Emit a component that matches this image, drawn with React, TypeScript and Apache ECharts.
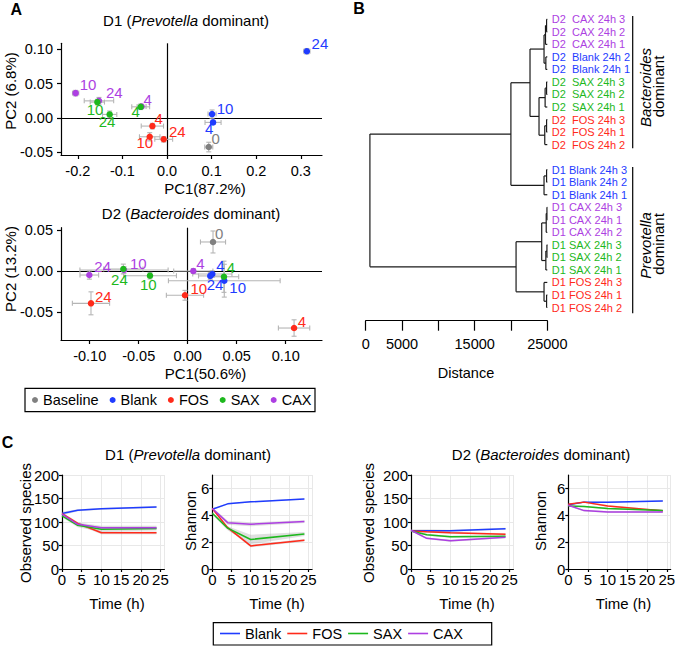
import React, { useEffect, useRef } from 'react';
import * as echarts from 'echarts';

const FONT = '"Liberation Sans", Arial, Helvetica, sans-serif';

// ---------- groups ----------
const legendGroups = ['Baseline', 'Blank', 'FOS', 'SAX', 'CAX'];
const drawOrder = ['Baseline', 'CAX', 'Blank', 'FOS', 'SAX'];
const treatments = ['Blank', 'FOS', 'SAX', 'CAX'];
const palette: Record<string, string> = {
  Baseline: '#808080',
  Blank: '#1f3cff',
  FOS: '#ff2a1a',
  SAX: '#1db81d',
  CAX: '#ad3fe2',
};

// ---------- Panel A: PCA, rows = [PC1, PC2, PC1 error, PC2 error, time (h)] ----------
const d1Baseline = [[0.0936, -0.0427, 0.009, 0.007, '0']];
const d1Blank = [[0.1032, -0.0067, 0.018, 0.003, '4'], [0.101, 0.0054, 0.009, 0.006, '10'], [0.3135, 0.0971, 0.007, 0.004, '24']];
const d1FOS = [[-0.0328, -0.0121, 0.025, 0.004, '4'], [-0.0388, -0.0277, 0.023, 0.006, '10'], [-0.0074, -0.0314, 0.02, 0.004, '24']];
const d1SAX = [[-0.059, 0.016, 0.02, 0.004, '4'], [-0.1562, 0.0229, 0.016, 0.004, '10'], [-0.1286, 0.0049, 0.016, 0.005, '24']];
const d1CAX = [[-0.057, 0.0165, 0.01, 0.003, '4'], [-0.2049, 0.036, 0.007, 0.004, '10'], [-0.1526, 0.0247, 0.033, 0.005, '24']];

const d2Baseline = [[0.0258, 0.0354, 0.0128, 0.0134, '0']];
const d2Blank = [[0.0251, -0.0037, 0.02, 0.004, '4'], [0.0373, -0.0118, 0.057, 0.02, '10'], [0.023, -0.006, 0.012, 0.004, '24']];
const d2FOS = [[0.1085, -0.0695, 0.016, 0.01, '4'], [-0.0028, -0.0296, 0.019, 0.006, '10'], [-0.0987, -0.0394, 0.019, 0.014, '24']];
const d2SAX = [[0.037, -0.007, 0.015, 0.019, '4'], [-0.0385, -0.0057, 0.027, 0.004, '10'], [-0.0657, 0.0024, 0.02, 0.006, '24']];
const d2CAX = [[0.0057, 0.0, 0.02, 0.003, '4'], [-0.065, 0.0012, 0.045, 0.004, '10'], [-0.1004, -0.0049, 0.0095, 0.005, '24']];

const pcaD1XTicks = [-0.2, -0.1, 0, 0.1, 0.2, 0.3];
const pcaD1YTicks = [-0.05, 0, 0.05, 0.1];
const pcaD2XTicks = [-0.1, -0.05, 0, 0.05, 0.1];
const pcaD2YTicks = [-0.05, 0, 0.05];

// label placement (style): [left edge dx from point, vertical centre dy]
const d1LabelPlace: Record<string, number[]> = {
  'Baseline-0': [2.7, -9], 'Blank-24': [4.7, -8], 'Blank-10': [4.7, -6], 'Blank-4': [-8, 6],
  'FOS-4': [2, -8], 'FOS-10': [-13.3, 5.5], 'FOS-24': [5.3, -8],
  'SAX-4': [-9.3, 5], 'SAX-10': [-10.7, 7], 'SAX-24': [-11, 7],
  'CAX-4': [2, -7], 'CAX-10': [4, -9], 'CAX-24': [7, -8.5],
};
const d2LabelPlace: Record<string, number[]> = {
  'Baseline-0': [2, -8], 'CAX-4': [3, -8], 'Blank-4': [4, -9], 'SAX-4': [2.7, -9],
  'Blank-24': [-3.5, 8.5], 'Blank-10': [5, 6.5], 'FOS-10': [5.5, -6.5], 'FOS-4': [3.7, -6.3],
  'FOS-24': [4, -7], 'CAX-24': [5, -8.5], 'SAX-24': [-12.3, 10], 'CAX-10': [6, -6.5], 'SAX-10': [-10, 8.5],
};

// ---------- Panel B: dendrogram ----------
const dendroLeaves = [
  'D2  CAX 24h 3', 'D2  CAX 24h 2', 'D2  CAX 24h 1', 'D2  Blank 24h 2', 'D2  Blank 24h 1',
  'D2  SAX 24h 3', 'D2  SAX 24h 2', 'D2  SAX 24h 1', 'D2  FOS 24h 3', 'D2  FOS 24h 1', 'D2  FOS 24h 2',
  '',
  'D1 Blank 24h 3', 'D1 Blank 24h 2', 'D1 Blank 24h 1', 'D1 CAX 24h 3', 'D1 CAX 24h 1', 'D1 CAX 24h 2',
  'D1 SAX 24h 3', 'D1 SAX 24h 2', 'D1 SAX 24h 1', 'D1 FOS 24h 3', 'D1 FOS 24h 1', 'D1 FOS 24h 2',
];
const dendroLeafPosition = 25000;
// merges: [position on Distance axis, child, child]; numbers are leaf slots
const dendroTree: any = [580,
  [19990,
    [22620,
      [24550, [24750, [24900, 0, 1], 2], [24800, 3, 4]],
      [23860, [24700, [24900, 5, 6], 7], [24650, [24900, 8, 9], 10]]],
    [24550, [24900, 12, 13], 14]],
  [20700,
    [24230, [24850, [24950, 15, 16], 17], [24800, [24950, 18, 19], 20]],
    [24550, 21, [24900, 22, 23]]]];
const distanceTicks = [0, 5000, 10000, 15000, 20000, 25000];
const distanceTickLabels = ['0', '5000', '', '15000', '', '25000'];

// ---------- Panel C: diversity over time ----------
const times = [0, 4, 10, 24];
const d1ObsBlank = [118, 125, 128, 132];
const d1ObsFOS = [118, 97, 77, 77];
const d1ObsSAX = [113, 93, 84.5, 86];
const d1ObsCAX = [117, 95, 88, 88];
const d1ObsSd = { Blank: [4, 2, 2, 2], FOS: [3, 3, 3, 3], SAX: [3, 4, 5, 4], CAX: [3, 4, 4, 4] };

const d1ShanBlank = [4.45, 4.85, 5.0, 5.22];
const d1ShanFOS = [4.5, 3.08, 1.72, 2.14];
const d1ShanSAX = [4.15, 3.04, 2.2, 2.6];
const d1ShanCAX = [4.5, 3.45, 3.33, 3.53];
const d1ShanSd = { Blank: [0.05, 0.05, 0.05, 0.05], FOS: [0.05, 0.1, 0.1, 0.1], SAX: [0.1, 0.15, 0.35, 0.15], CAX: [0.1, 0.15, 0.15, 0.1] };

const d2ObsBlank = [81.5, 81.5, 81.5, 85.7];
const d2ObsFOS = [81, 79, 77, 73.8];
const d2ObsSAX = [81, 73, 68.7, 69.5];
const d2ObsCAX = [82.5, 65.2, 60.2, 67.4];
const d2ObsSd = { Blank: [3, 3, 2, 2], FOS: [2, 2, 2, 2], SAX: [2, 2, 2, 2], CAX: [2, 2, 2, 2] };

const d2ShanBlank = [4.78, 4.98, 4.98, 5.07];
const d2ShanFOS = [4.83, 4.98, 4.7, 4.33];
const d2ShanSAX = [4.7, 4.65, 4.5, 4.36];
const d2ShanCAX = [4.75, 4.35, 4.25, 4.25];
const d2ShanSd = { Blank: [0.05, 0.05, 0.05, 0.05], FOS: [0.05, 0.06, 0.06, 0.05], SAX: [0.05, 0.06, 0.06, 0.05], CAX: [0.06, 0.06, 0.06, 0.06] };

// ---------- helpers ----------
const black = { color: '#000', width: 1.2 };

function pcaAxis(gridIndex: number, min: number, max: number, ticks: number[], digits: number) {
  return {
    type: 'value', gridIndex, min, max,
    axisLine: { show: true, onZero: false, lineStyle: black },
    axisTick: { show: true, length: 4, customValues: ticks, lineStyle: black },
    axisLabel: {
      show: true, customValues: ticks, margin: 8, fontSize: 14.5, color: '#000', fontFamily: FONT,
      formatter: (v: number) => Number(v).toFixed(digits),
    },
    splitLine: { show: false },
  };
}

function pcaSeries(gridIndex: number, sets: Record<string, any[]>, place: Record<string, number[]>) {
  const out: any[] = [];
  const sym = 6.5;
  drawOrder.forEach((g, k) => {
    const rows = sets[g];
    out.push({
      type: 'scatter', name: g, xAxisIndex: gridIndex, yAxisIndex: gridIndex, z: 5,
      symbol: 'circle', symbolSize: sym, itemStyle: { color: palette[g], opacity: 1 },
      emphasis: { disabled: true },
      label: { show: true, position: 'right', distance: 0, formatter: '{b}', color: palette[g], fontSize: 15, fontFamily: FONT },
      data: rows.map((r) => {
        const p = place[`${g}-${r[4]}`] || [4, -8];
        return { name: r[4], value: [r[0], r[1]], label: { offset: [p[0] - sym / 2, p[1]] } };
      }),
      markLine: k === 0 ? {
        silent: true, symbol: ['none', 'none'], label: { show: false }, z: 1,
        lineStyle: { color: '#000', width: 1.2, type: 'solid' },
        data: [{ xAxis: 0 }, { yAxis: 0 }],
      } : undefined,
    });
  });
  const all: any[] = [];
  legendGroups.forEach((g) => sets[g].forEach((r) => all.push([r[0], r[1], r[2], r[3]])));
  out.push({
    type: 'custom', xAxisIndex: gridIndex, yAxisIndex: gridIndex, z: 3, silent: true,
    encode: { x: 0, y: 1 },
    data: all,
    renderItem: (_p: any, api: any) => {
      const x = api.value(0), y = api.value(1), ex = api.value(2), ey = api.value(3);
      const l = api.coord([x - ex, y]), r = api.coord([x + ex, y]);
      const t = api.coord([x, y + ey]), b = api.coord([x, y - ey]);
      const c = 2.5;
      const style = { stroke: '#b5b5b5', lineWidth: 1.1, fill: null };
      const seg = (x1: number, y1: number, x2: number, y2: number) => ({ type: 'line', shape: { x1, y1, x2, y2 }, style });
      return {
        type: 'group', children: [
          seg(l[0], l[1], r[0], r[1]), seg(l[0], l[1] - c, l[0], l[1] + c), seg(r[0], r[1] - c, r[0], r[1] + c),
          seg(t[0], t[1], b[0], b[1]), seg(t[0] - c, t[1], t[0] + c, t[1]), seg(b[0] - c, b[1], b[0] + c, b[1]),
        ],
      };
    },
  });
  return out;
}

function dendroSegments() {
  const segs: number[][] = [];
  const walk = (node: any): { x: number; y: number } => {
    if (typeof node === 'number') return { x: dendroLeafPosition, y: node };
    const h = node[0];
    const a = walk(node[1]);
    const b = walk(node[2]);
    segs.push([h, a.y, h, b.y]);
    segs.push([h, a.y, a.x, a.y]);
    segs.push([h, b.y, b.x, b.y]);
    return { x: h, y: (a.y + b.y) / 2 };
  };
  walk(dendroTree);
  return segs;
}

function leafColor(name: string) {
  const g = treatments.find((t) => name.includes(t));
  return g ? palette[g] : '#000';
}

function cXAxis(gridIndex: number) {
  return {
    type: 'value', gridIndex, min: 0, max: 26, interval: 5,
    axisLine: { show: true, onZero: false, lineStyle: black },
    axisTick: { show: true, length: 3, lineStyle: black },
    axisLabel: { margin: 3, fontSize: 15, color: '#000', fontFamily: FONT },
    splitLine: { show: true, lineStyle: { color: '#e8e8e8', width: 1 } },
  };
}

function cYAxis(gridIndex: number, max: number, interval: number) {
  return {
    type: 'value', gridIndex, min: 0, max, interval,
    axisLine: { show: true, onZero: false, lineStyle: black },
    axisTick: { show: true, length: 3, lineStyle: black },
    axisLabel: { margin: 3, fontSize: 15, color: '#000', fontFamily: FONT },
    splitLine: { show: true, lineStyle: { color: '#e8e8e8', width: 1 } },
  };
}

function cSeries(gridIndex: number, values: Record<string, number[]>, sd: Record<string, number[]>) {
  const out: any[] = [];
  const bands: number[][] = [];
  treatments.forEach((g) => {
    const v = values[g], s = sd[g];
    for (let i = 0; i < times.length - 1; i++) {
      bands.push([times[i], v[i] - s[i], v[i] + s[i], times[i + 1], v[i + 1] - s[i + 1], v[i + 1] + s[i + 1]]);
    }
  });
  out.push({
    type: 'custom', xAxisIndex: gridIndex, yAxisIndex: gridIndex, z: 2, silent: true,
    encode: { x: [0, 3], y: [1, 2, 4, 5] },
    data: bands,
    renderItem: (_p: any, api: any) => {
      const a = api.coord([api.value(0), api.value(2)]);
      const b = api.coord([api.value(3), api.value(5)]);
      const c = api.coord([api.value(3), api.value(4)]);
      const d = api.coord([api.value(0), api.value(1)]);
      return { type: 'polygon', shape: { points: [a, b, c, d] }, style: { fill: 'rgba(140,140,140,0.28)' } };
    },
  });
  treatments.forEach((g) => {
    out.push({
      type: 'line', name: g, xAxisIndex: gridIndex, yAxisIndex: gridIndex, z: 4,
      symbol: 'none', showSymbol: false, color: palette[g],
      lineStyle: { color: palette[g], width: 1.5 },
      emphasis: { disabled: true },
      data: times.map((t, i) => [t, values[g][i]]),
    });
  });
  return out;
}

function titleText(x: number, y: number, donor: string, genus: string) {
  return {
    type: 'text', x, y, silent: true,
    style: {
      text: `{n|${donor} (}{i|${genus}}{n| dominant)}`,
      rich: {
        n: { fontSize: 15, fontFamily: FONT, fill: '#000' },
        i: { fontSize: 15, fontFamily: FONT, fontStyle: 'italic', fill: '#000' },
      },
      align: 'center', verticalAlign: 'middle',
    },
  };
}

function plainText(x: number, y: number, text: string, extra: any = {}, rotation = 0) {
  return {
    type: 'text', x, y, rotation, silent: true,
    style: { text, fontSize: 15, fontFamily: FONT, fontWeight: 'normal', fill: '#000', align: 'center', verticalAlign: 'middle', ...extra },
  };
}

function buildOption() {
  const setsD1: Record<string, any[]> = { Baseline: d1Baseline, Blank: d1Blank, FOS: d1FOS, SAX: d1SAX, CAX: d1CAX };
  const setsD2: Record<string, any[]> = { Baseline: d2Baseline, Blank: d2Blank, FOS: d2FOS, SAX: d2SAX, CAX: d2CAX };

  const grids = [
    { left: 61, top: 43.3, width: 261, height: 111.7 },
    { left: 61, top: 227.7, width: 261, height: 112.3 },
    { left: 365.7, top: 19.3, width: 181.6, height: 288.2 },
    { left: 62, top: 475, width: 102.4, height: 94 },
    { left: 212.3, top: 475, width: 99.8, height: 94 },
    { left: 411, top: 475, width: 102.4, height: 94 },
    { left: 568.3, top: 475, width: 102.4, height: 94 },
  ].map((g) => ({ ...g, containLabel: false, outerBoundsMode: 'none' }));

  const xAxis: any[] = [
    pcaAxis(0, -0.2377, 0.3475, pcaD1XTicks, 1),
    pcaAxis(1, -0.1293, 0.137, pcaD2XTicks, 2),
    {
      type: 'value', gridIndex: 2, min: 0, max: 25000, interval: 5000, offset: 13.2,
      axisLine: { show: true, onZero: false, lineStyle: black },
      axisTick: { show: true, length: 10, lineStyle: black },
      axisLabel: {
        margin: 16, fontSize: 14.5, color: '#000', fontFamily: FONT,
        formatter: (v: number) => distanceTickLabels[distanceTicks.indexOf(v)] ?? '',
      },
      splitLine: { show: false },
    },
    cXAxis(3), cXAxis(4), cXAxis(5), cXAxis(6),
  ];
  const yAxis: any[] = [
    pcaAxis(0, -0.0543, 0.1087, pcaD1YTicks, 2),
    pcaAxis(1, -0.0841, 0.0528, pcaD2YTicks, 2),
    { type: 'value', gridIndex: 2, min: 0, max: dendroLeaves.length - 1, inverse: true, show: false },
    cYAxis(3, 200, 50),
    cYAxis(4, 7, 2),
    cYAxis(5, 200, 50),
    cYAxis(6, 7, 2),
  ];

  const series: any[] = [
    ...pcaSeries(0, setsD1, d1LabelPlace),
    ...pcaSeries(1, setsD2, d2LabelPlace),
    {
      type: 'custom', name: 'dendrogram', xAxisIndex: 2, yAxisIndex: 2, z: 2, silent: true,
      encode: { x: [0, 2], y: [1, 3] },
      data: dendroSegments(),
      renderItem: (_p: any, api: any) => {
        const a = api.coord([api.value(0), api.value(1)]);
        const b = api.coord([api.value(2), api.value(3)]);
        return { type: 'line', shape: { x1: a[0], y1: a[1], x2: b[0], y2: b[1] }, style: { stroke: '#1a1a1a', lineWidth: 1.2 } };
      },
    },
    {
      type: 'scatter', name: 'leaves', xAxisIndex: 2, yAxisIndex: 2, z: 3, silent: true,
      symbolSize: 1, itemStyle: { color: 'rgba(0,0,0,0)' },
      label: { show: true, position: 'right', distance: 4, formatter: '{b}', fontSize: 11, fontFamily: FONT, opacity: 1 },
      data: dendroLeaves
        .map((name, slot) => ({ name, slot }))
        .filter((d) => d.name !== '')
        .map((d) => ({ name: d.name, value: [dendroLeafPosition, d.slot], label: { color: leafColor(d.name) } })),
    },
    ...cSeries(3, { Blank: d1ObsBlank, FOS: d1ObsFOS, SAX: d1ObsSAX, CAX: d1ObsCAX }, d1ObsSd),
    ...cSeries(4, { Blank: d1ShanBlank, FOS: d1ShanFOS, SAX: d1ShanSAX, CAX: d1ShanCAX }, d1ShanSd),
    ...cSeries(5, { Blank: d2ObsBlank, FOS: d2ObsFOS, SAX: d2ObsSAX, CAX: d2ObsCAX }, d2ObsSd),
    ...cSeries(6, { Blank: d2ShanBlank, FOS: d2ShanFOS, SAX: d2ShanSAX, CAX: d2ShanCAX }, d2ShanSd),
  ];

  const legendText = { fontSize: 14.5, color: '#000', fontFamily: FONT, lineHeight: 16 };
  const legend = [
    {
      data: legendGroups.map((n) => ({ name: n, icon: 'circle' })),
      left: 32, top: 392, padding: 0, itemWidth: 6, itemHeight: 6, itemGap: 11,
      selectedMode: false, textStyle: legendText,
    },
    {
      data: treatments.map((n) => ({ name: n, icon: 'rect' })),
      left: 220, top: 625.5, padding: 0, itemWidth: 20, itemHeight: 1.6, itemGap: 6,
      selectedMode: false, textStyle: legendText,
    },
  ];

  const up = -Math.PI / 2 * -1; // rotate text to read bottom-to-top
  const graphic = [
    plainText(16.3, 9.5, 'A', { fontWeight: 'bold', fontSize: 16 }),
    plainText(359, 8.5, 'B', { fontWeight: 'bold', fontSize: 16 }),
    plainText(7.5, 442.5, 'C', { fontWeight: 'bold', fontSize: 16 }),
    titleText(186, 20.5, 'D1', 'Prevotella'),
    titleText(191, 213, 'D2', 'Bacteroides'),
    titleText(188, 454, 'D1', 'Prevotella'),
    titleText(541, 454, 'D2', 'Bacteroides'),
    // axis titles
    plainText(205, 188, 'PC1(87.2%)'),
    plainText(205.5, 373, 'PC1(50.6%)'),
    plainText(10, 91, 'PC2 (6.8%)', {}, up),
    plainText(10, 269, 'PC2 (13.2%)', {}, up),
    plainText(466, 372.7, 'Distance', { fontSize: 14.5 }),
    plainText(117, 603, 'Time (h)'),
    plainText(277, 603, 'Time (h)'),
    plainText(467, 603, 'Time (h)'),
    plainText(623.5, 603, 'Time (h)'),
    plainText(25.5, 523, 'Observed species', {}, up),
    plainText(368, 523, 'Observed species', {}, up),
    plainText(190, 521, 'Shannon', {}, up),
    plainText(540, 521, 'Shannon', {}, up),
    // dominance brackets
    { type: 'line', silent: true, shape: { x1: 632.7, y1: 16, x2: 632.7, y2: 148.3 }, style: { stroke: '#000', lineWidth: 1.2 } },
    { type: 'line', silent: true, shape: { x1: 632.7, y1: 167, x2: 632.7, y2: 313.3 }, style: { stroke: '#000', lineWidth: 1.2 } },
    plainText(645, 87.5, 'Bacteroides', { fontStyle: 'italic' }, up),
    plainText(658, 86.5, 'dominant', {}, up),
    plainText(645, 245.5, 'Prevotella', { fontStyle: 'italic' }, up),
    plainText(658, 244, 'dominant', {}, up),
    // legend frames
    { type: 'rect', silent: true, shape: { x: 25, y: 388.3, width: 290, height: 23.4 }, style: { fill: 'none', stroke: '#000', lineWidth: 1.2 } },
    { type: 'rect', silent: true, shape: { x: 213.3, y: 622.7, width: 278.4, height: 22.3 }, style: { fill: 'none', stroke: '#000', lineWidth: 1.2 } },
  ];

  return {
    animation: false,
    backgroundColor: '#fff',
    textStyle: { fontFamily: FONT },
    grid: grids,
    xAxis,
    yAxis,
    legend,
    series,
    graphic,
  };
}

export default function App() {
  const ref = useRef<HTMLDivElement>(null);
  useEffect(() => {
    if (!ref.current) return;
    const chart = echarts.init(ref.current, null, { renderer: 'svg' });
    chart.setOption(buildOption() as any);
    return () => chart.dispose();
  }, []);
  return (
    <div
      ref={ref}
      style={{ position: 'fixed', left: 0, top: 0, width: 675, height: 646, background: '#fff' }}
    />
  );
}
